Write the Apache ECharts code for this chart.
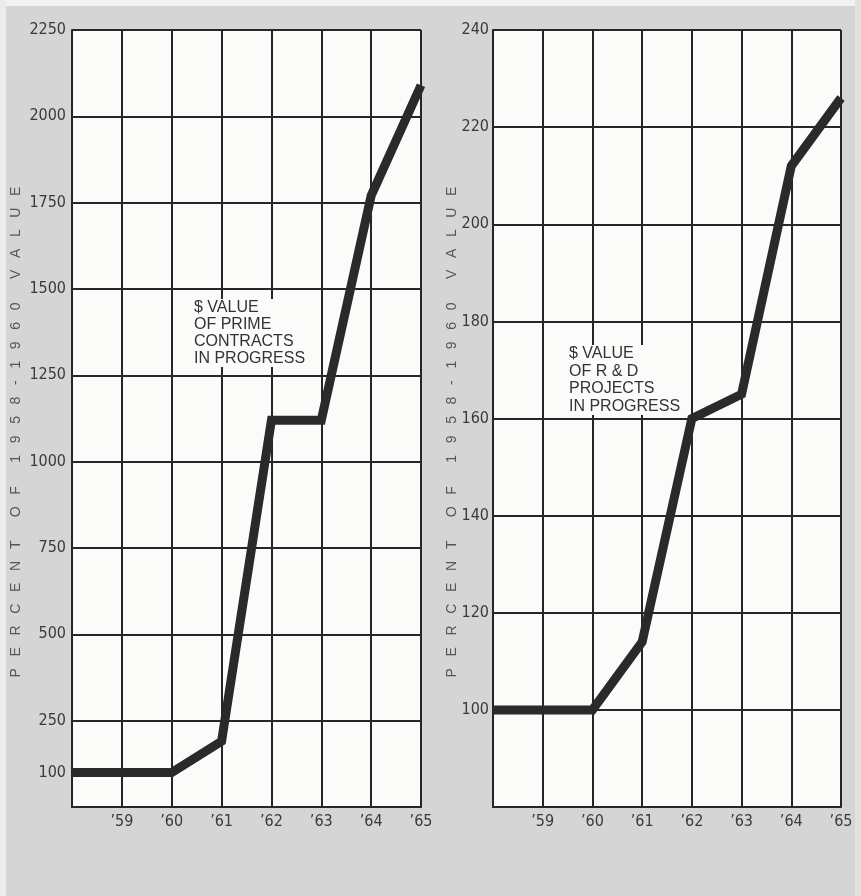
<!DOCTYPE html>
<html>
<head>
<meta charset="utf-8">
<script src="https://cdn.jsdelivr.net/npm/echarts@6/dist/echarts.min.js"></script>
<style>
html,body{margin:0;padding:0;background:#d5d5d5;}
#chart{width:861px;height:896px;}
</style>
</head>
<body>
<div id="chart"></div>
<script>
const years = ["'58", "’59", "’60", "’61", "’62", "’63", "’64", "’65"];
const primeContracts = [100, 100, 100, 190, 1120, 1120, 1770, 2090];
const rdProjects = [100, 100, 100, 114, 160, 165, 212, 226];
const leftLabels = [100, 250, 500, 750, 1000, 1250, 1500, 1750, 2000, 2250];
const rightLabels = [100, 120, 140, 160, 180, 200, 220, 240];
const axisTitleWords = ['PERCENT', 'OF', '1958-1960', 'VALUE'];
const leftNote = '$ VALUE\nOF PRIME\nCONTRACTS\nIN PROGRESS';
const rightNote = '$ VALUE\nOF R & D\nPROJECTS\nIN PROGRESS';

const axisTitle = axisTitleWords.map(w => w.split('').join('   ')).join('      ');
const tickFont = '"Liberation Sans Narrow", "DejaVu Sans Condensed", sans-serif';
const ink = '#262626';

function xAxis(gridIndex) {
  return {
    type: 'category', gridIndex, data: years, boundaryGap: false,
    axisLine: {lineStyle: {color: ink, width: 2}},
    axisTick: {show: false},
    splitLine: {show: true, lineStyle: {color: ink, width: 2}},
    axisLabel: {
      color: '#3a3a3a', fontFamily: tickFont, fontSize: 16, margin: 7,
      interval: 0,
      formatter: (v, i) => i === 0 ? '' : v
    }
  };
}

const chart = echarts.init(document.getElementById('chart'));
chart.setOption({
  backgroundColor: '#d5d5d5',
  animation: false,
  grid: [
    {left: 72, top: 30, width: 349, height: 777, show: true, backgroundColor: '#fbfbfa', borderWidth: 0},
    {left: 493, top: 30, width: 348, height: 777, show: true, backgroundColor: '#fbfbfa', borderWidth: 0}
  ],
  xAxis: [xAxis(0), xAxis(1)],
  yAxis: [
    {
      type: 'value', gridIndex: 0, min: 0, max: 2250, interval: 250,
      axisLine: {show: true, lineStyle: {color: ink, width: 2}},
      axisTick: {show: false},
      splitLine: {show: true, lineStyle: {color: ink, width: 2}},
      axisLabel: {customValues: leftLabels, formatter: v => String(v),
        color: '#3a3a3a', fontFamily: tickFont, fontSize: 16, margin: 6}
    },
    {
      type: 'value', gridIndex: 1, min: 80, max: 240, interval: 20,
      axisLine: {show: true, lineStyle: {color: ink, width: 2}},
      axisTick: {show: false},
      splitLine: {show: true, lineStyle: {color: ink, width: 2}},
      axisLabel: {color: '#3a3a3a', fontFamily: tickFont, fontSize: 16, margin: 4,
        formatter: v => rightLabels.indexOf(v) >= 0 ? String(v) : ''}
    }
  ],
  series: [
    {type: 'line', xAxisIndex: 0, yAxisIndex: 0, data: primeContracts, symbol: 'none',
     lineStyle: {color: '#2a2a2a', width: 9, join: 'miter'}},
    {type: 'line', xAxisIndex: 1, yAxisIndex: 1, data: rdProjects, symbol: 'none',
     lineStyle: {color: '#2a2a2a', width: 9, join: 'miter'}}
  ],
  graphic: [
    {type: 'rect', left: 0, top: 0, shape: {width: 861, height: 6}, style: {fill: '#f2f2f2'}, z: -1},
    {type: 'rect', left: 0, top: 0, shape: {width: 6, height: 896}, style: {fill: '#ececec'}, z: -1},
    {type: 'rect', left: 855, top: 0, shape: {width: 6, height: 896}, style: {fill: '#e2e2e2'}, z: -1},
    {type: 'text', x: 16, y: 432, rotation: Math.PI / 2,
     style: {text: axisTitle, fill: '#555', font: '14px "Liberation Sans", Arial, sans-serif', textAlign: 'center', textVerticalAlign: 'middle'}},
    {type: 'text', x: 452, y: 432, rotation: Math.PI / 2,
     style: {text: axisTitle, fill: '#555', font: '14px "Liberation Sans", Arial, sans-serif', textAlign: 'center', textVerticalAlign: 'middle'}},
    {type: 'text', x: 192, y: 299, z: 10,
     style: {text: leftNote, fill: '#333', font: '16px "Liberation Sans", Arial, sans-serif', lineHeight: 17, backgroundColor: '#fbfbfa', padding: [0, 2]}},
    {type: 'text', x: 567, y: 345, z: 10,
     style: {text: rightNote, fill: '#333', font: '16px "Liberation Sans", Arial, sans-serif', lineHeight: 17.5, backgroundColor: '#fbfbfa', padding: [0, 2]}}
  ]
});
</script>
</body>
</html>
